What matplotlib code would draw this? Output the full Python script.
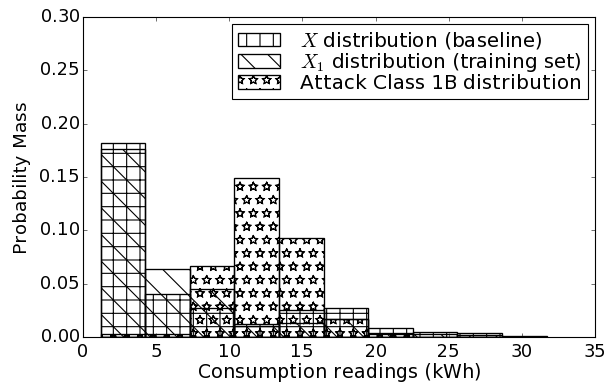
import matplotlib
matplotlib.use("Agg")
import matplotlib.pyplot as plt
import matplotlib.hatch as mhatch

plt.style.use("classic")
plt.rcParams["font.family"] = ["DejaVu Sans"]
plt.rcParams["mathtext.fontset"] = "cm"
plt.rcParams["hatch.linewidth"] = 1.0
plt.rcParams["text.hinting"] = "force_autohint"
plt.rcParams["text.hinting_factor"] = 1
mhatch.Stars.filled = False

bin_edges = [1.2, 4.25, 7.3, 10.35, 13.4, 16.45, 19.5, 22.55, 25.6, 28.65, 31.7]
x_base = [0.182, 0.040, 0.027, 0.012, 0.025, 0.027, 0.008, 0.005, 0.004, 0.001]
x1_train = [0.176, 0.064, 0.045, 0.010, 0.013, 0.017, 0.004, 0.003, 0.002, 0.000]
attack_1b = [0.003, 0.003, 0.067, 0.149, 0.093, 0.017, 0.003, 0.000, 0.000, 0.000]

labels = [r"$X$ distribution (baseline)",
          r"$X_1$ distribution (training set)",
          "Attack Class 1B distribution"]
hatches = ["+", "\\", "*"]
series = [x_base, x1_train, attack_1b]

dpi = 80
fig = plt.figure(figsize=(610 / dpi, 387 / dpi), dpi=dpi, facecolor="white")
ax = fig.add_axes([83 / 610, 1 - 337 / 387, 512 / 610, 320 / 387])

lefts = bin_edges[:-1]
widths = [b - a for a, b in zip(bin_edges[:-1], bin_edges[1:])]
for vals, h, lab in zip(series, hatches, labels):
    ax.bar(lefts, vals, width=widths, align="edge", fill=False, hatch=h,
           edgecolor="black", linewidth=1.2, label=lab)

ax.set_xlim(0, 35)
ax.set_ylim(0, 0.30)
ax.set_xticks([0, 5, 10, 15, 20, 25, 30, 35])
ax.set_yticks([0.00, 0.05, 0.10, 0.15, 0.20, 0.25, 0.30])
ax.set_yticklabels(["0.00", "0.05", "0.10", "0.15", "0.20", "0.25", "0.30"])
ax.tick_params(labelsize=16.5)
ax.tick_params(axis="x", pad=5)
ax.tick_params(axis="y", pad=3)
ax.set_xlabel("Consumption readings (kWh)", fontsize=17, labelpad=2)
ax.set_ylabel("Probability Mass", fontsize=16.5, labelpad=7)

leg = ax.legend(loc="upper right", fontsize=18, handlelength=2.1,
                handleheight=0.65, fancybox=False, borderaxespad=0.35,
                labelspacing=0.0, handletextpad=1.0, borderpad=0.3)
leg.get_frame().set_edgecolor("black")

fig.savefig("out.png", dpi=dpi, facecolor="white")
